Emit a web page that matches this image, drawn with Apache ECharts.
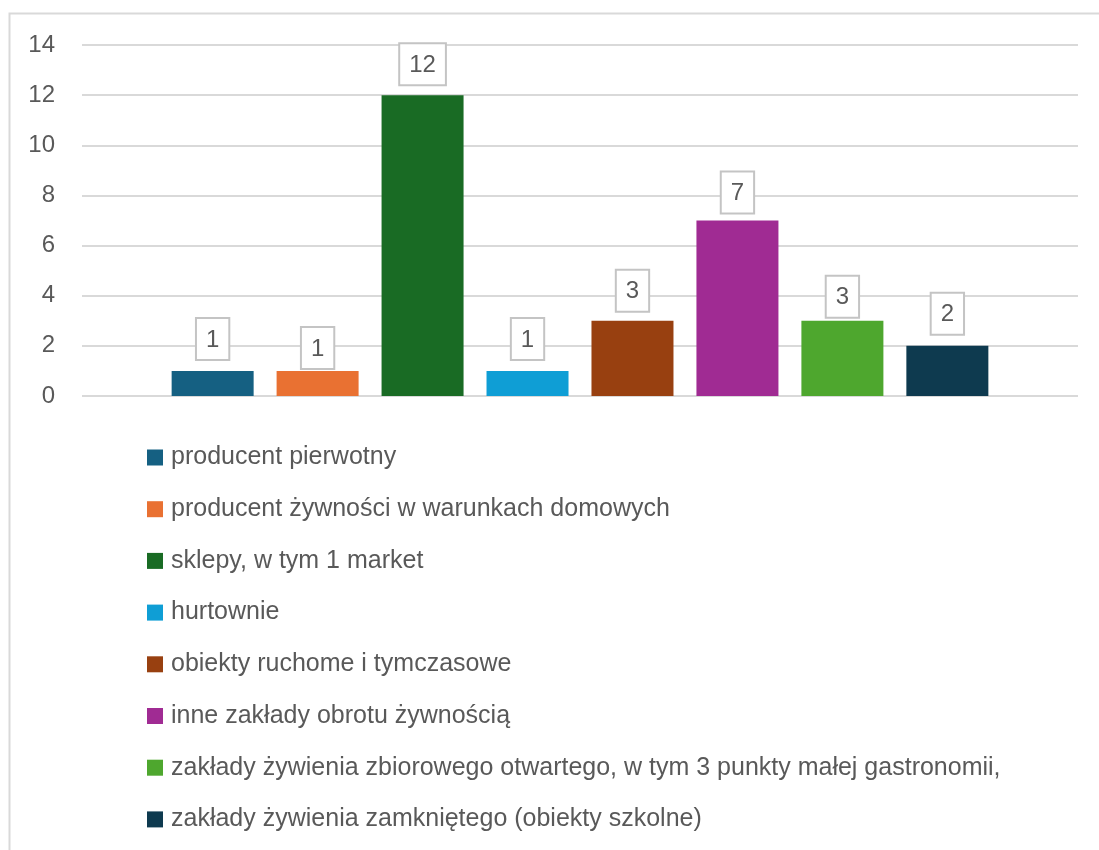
<!DOCTYPE html>
<html>
<head>
<meta charset="utf-8">
<script src="https://cdn.jsdelivr.net/npm/echarts@6/dist/echarts.min.js"></script>
<style>
	html, body { margin: 0; padding: 0; background: #fff; }
	#chart { width: 1099px; height: 850px; }
</style>
</head>
<body>
<div id="chart"></div>
<script>
// dane z wykresu
var categories = [''];
var seriesNames = [
	'producent pierwotny',
	'producent żywności w warunkach domowych',
	'sklepy, w tym 1 market',
	'hurtownie',
	'obiekty ruchome i tymczasowe',
	'inne zakłady obrotu żywnością',
	'zakłady żywienia zbiorowego otwartego, w tym 3 punkty małej gastronomii,',
	'zakłady żywienia zamkniętego (obiekty szkolne)'
];
var seriesValues = [1, 1, 12, 1, 3, 7, 3, 2];
var yTicks = [0, 2, 4, 6, 8, 10, 12, 14];

// wygląd
var colors = ['#156082', '#E97132', '#196B24', '#0F9ED5', '#984010', '#A02B93', '#4EA72E', '#0E3A4F'];
var labelDist = [12, 3, 11, 12, 10, 8, 4, 12];
var fontFam = '"Liberation Sans", Arial, sans-serif';

var series = [];
for (var i = 0; i < seriesNames.length; i++) {
	series.push({
		name: seriesNames[i],
		type: 'bar',
		barWidth: 82,
		barGap: '28%',
		itemStyle: { color: colors[i] },
		label: {
			show: true,
			position: 'top',
			distance: labelDist[i],
			color: '#595959',
			fontFamily: fontFam,
			fontSize: 24,
			backgroundColor: '#fff',
			borderColor: '#c4c4c4',
			borderWidth: 2,
			padding: [9, 9, 7, 9]
		},
		data: [seriesValues[i]]
	});
}

var chart = echarts.init(document.getElementById('chart'));
chart.setOption({
	animation: false,
	color: colors,
	graphic: [{
		type: 'rect',
		left: 7,
		top: 11,
		shape: { width: 1200, height: 1000 },
		style: { fill: 'none', stroke: '#d9d9d9', lineWidth: 2 },
		silent: true
	}],
	grid: { left: 82, right: 21, top: 45, bottom: 454 },
	xAxis: {
		type: 'category',
		data: categories,
		axisLine: { show: false },
		axisTick: { show: false },
		axisLabel: { show: false }
	},
	yAxis: {
		type: 'value',
		min: yTicks[0],
		max: yTicks[yTicks.length - 1],
		interval: 2,
		axisLine: { show: false },
		axisTick: { show: false },
		axisLabel: { color: '#595959', fontFamily: fontFam, fontSize: 24, margin: 27 },
		splitLine: { lineStyle: { color: '#d9d9d9', width: 2 } }
	},
	legend: {
		orient: 'vertical',
		left: 147,
		top: 445,
		padding: 0,
		itemWidth: 16,
		itemHeight: 16,
		itemGap: 26.7,
		icon: 'rect',
		textStyle: { color: '#595959', fontFamily: fontFam, fontSize: 25, lineHeight: 25, padding: [0, 0, 0, 3] },
		data: seriesNames
	},
	series: series
});
</script>
</body>
</html>
